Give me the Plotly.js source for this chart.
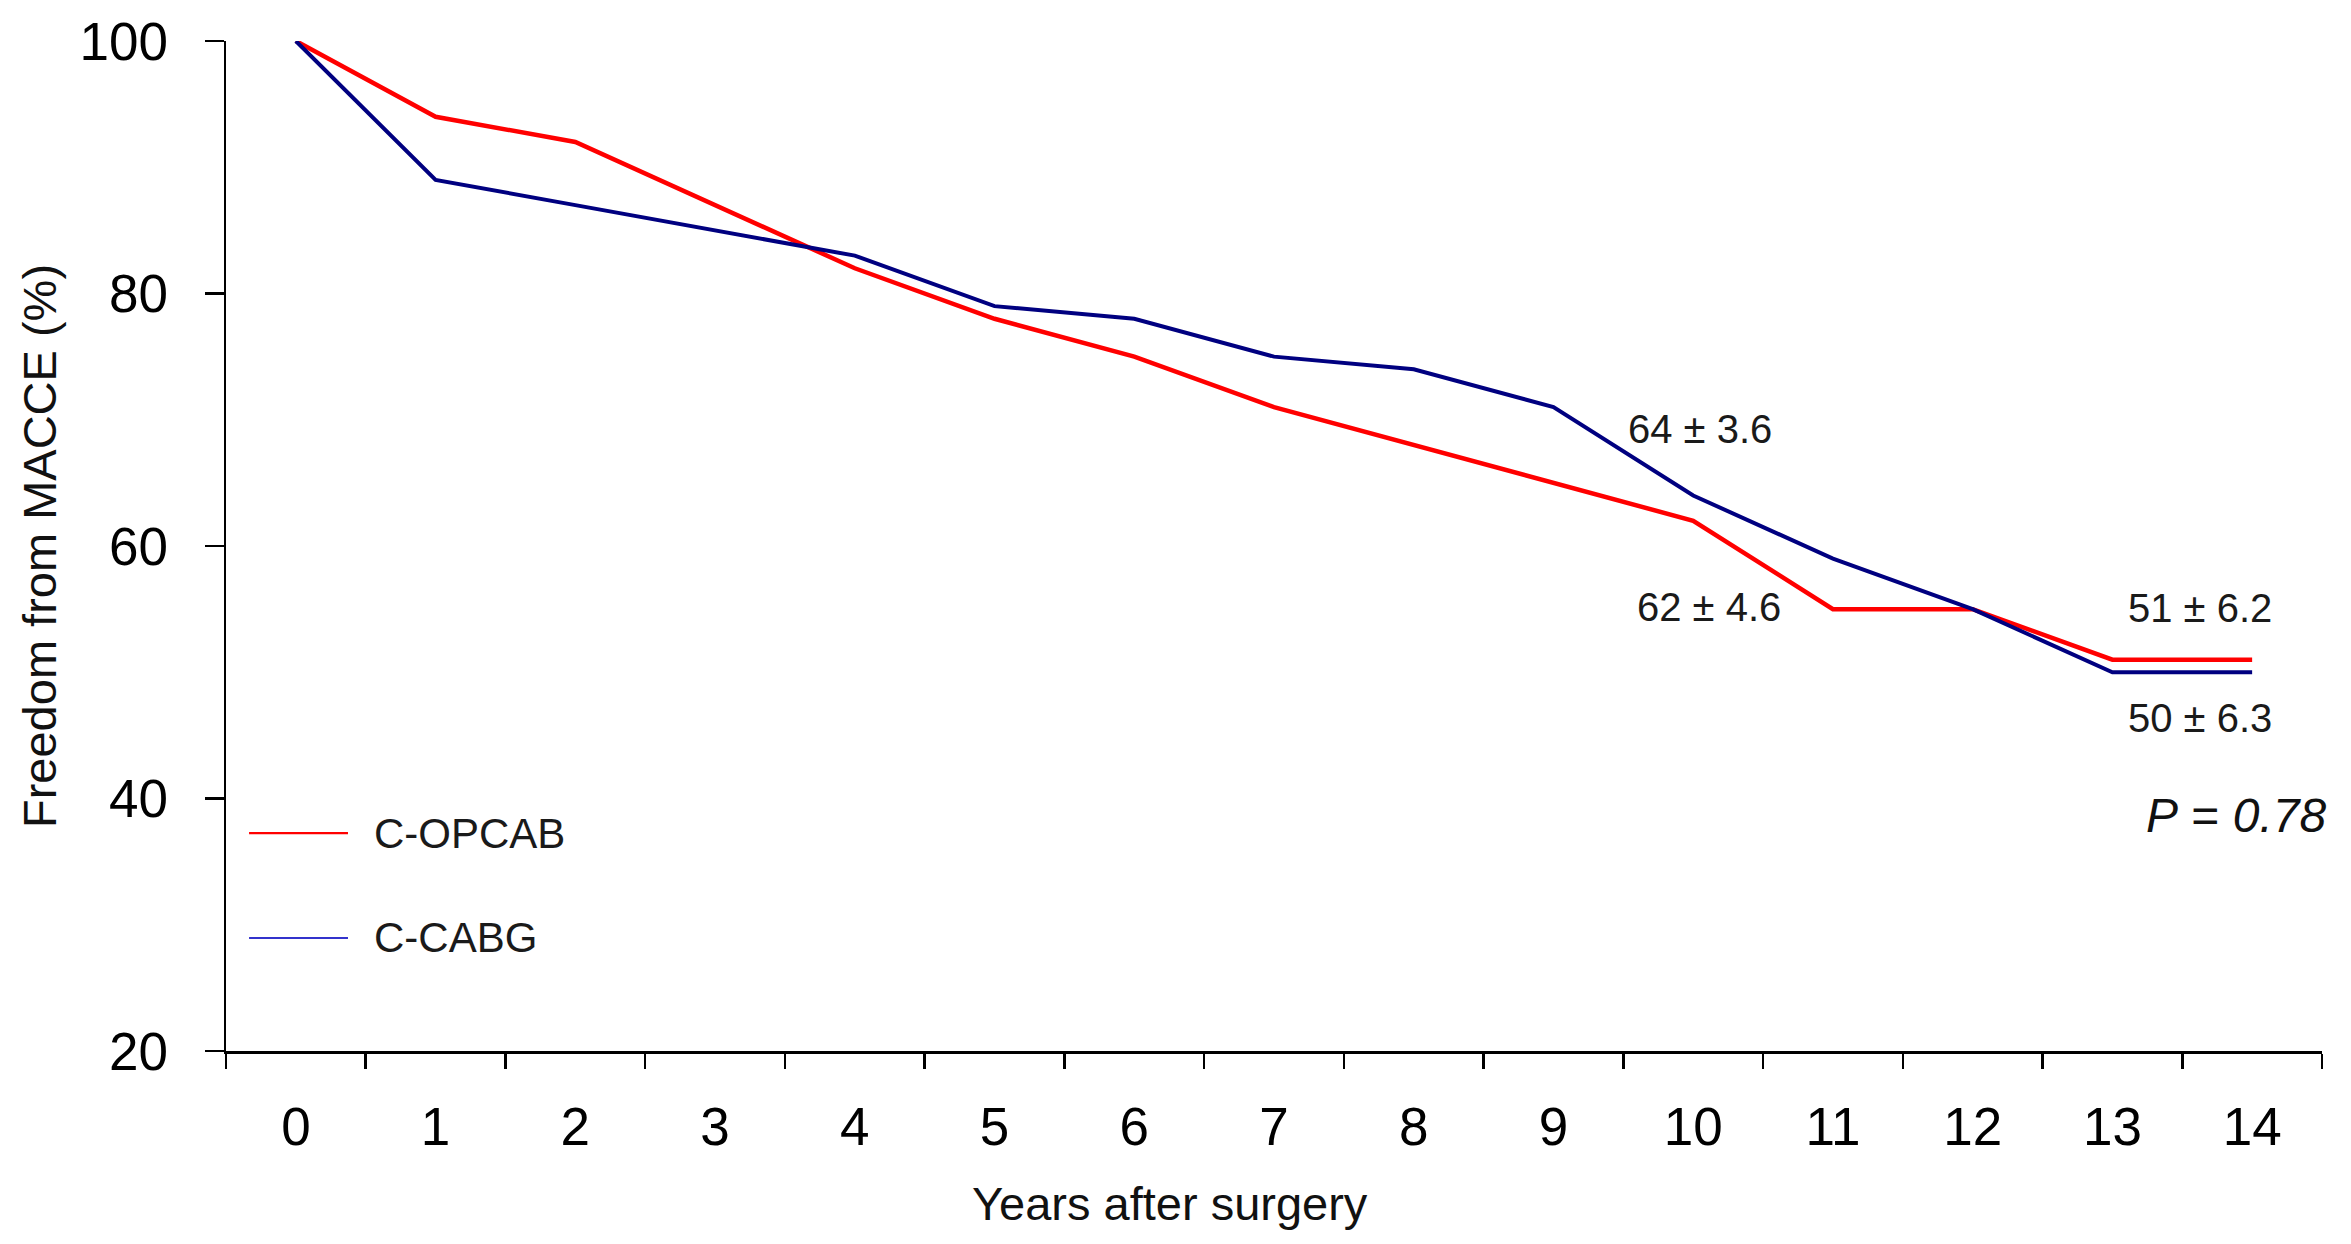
<!DOCTYPE html>
<html>
<head>
<meta charset="utf-8">
<script src="https://cdn.plot.ly/plotly-3.0.1.min.js"></script>
<style>html,body{margin:0;padding:0;background:#fff;}#chart{width:2351px;height:1244px;}</style>
</head>
<body>
<div id="chart"></div>
<script>
// Data
var years = ["0","1","2","3","4","5","6","7","8","9","10","11","12","13","14"];
var opcab = [100, 94, 92, 87, 82, 78, 75, 71, 68, 65, 62, 55, 55, 51, 51];
var cabg  = [100, 89, 87, 85, 83, 79, 78, 75, 74, 71, 64, 59, 55, 50, 50];
var seriesNames = ["C-OPCAB", "C-CABG"];
var yTicks = [20, 40, 60, 80, 100];
var valueLabels = ["64 \u00b1 3.6", "62 \u00b1 4.6", "51 \u00b1 6.2", "50 \u00b1 6.3"];
var pLabel = "<i>P</i> = <i>0.78</i>";
var xTitle = "Years after surgery";
var yTitle = "Freedom from MACCE (%)";

var FONT = "Liberation Sans, Arial, sans-serif";

var traces = [
  {x: years, y: opcab, type: "scatter", mode: "lines", name: seriesNames[0],
   line: {color: "#FF0000", width: 4.5}, showlegend: false, hoverinfo: "x+y"},
  {x: years, y: cabg, type: "scatter", mode: "lines", name: seriesNames[1],
   line: {color: "#000080", width: 4}, showlegend: false, hoverinfo: "x+y"}
];

var annFont = {family: FONT, size: 40, color: "#1a1a1a"};
var annotations = [
  {x: 10.05, y: 69.3, xref: "x", yref: "y", text: valueLabels[0], showarrow: false, font: annFont, xanchor: "center", yanchor: "middle"},
  {x: 10.11, y: 55.2, xref: "x", yref: "y", text: valueLabels[1], showarrow: false, font: annFont, xanchor: "center", yanchor: "middle"},
  {x: 13.63, y: 55.1, xref: "x", yref: "y", text: valueLabels[2], showarrow: false, font: annFont, xanchor: "center", yanchor: "middle"},
  {x: 13.63, y: 46.35, xref: "x", yref: "y", text: valueLabels[3], showarrow: false, font: annFont, xanchor: "center", yanchor: "middle"},
  {x: 1.003, y: 38.65, xref: "paper", yref: "y", text: pLabel, showarrow: false,
   font: {family: FONT, size: 48, color: "#111"}, xanchor: "right", yanchor: "middle"},
  // legend labels
  {x: 0.0697, y: 0.2158, xref: "paper", yref: "paper", text: seriesNames[0], showarrow: false,
   font: {family: FONT, size: 42, color: "#1a1a1a"}, xanchor: "left", yanchor: "middle"},
  {x: 0.0697, y: 0.1119, xref: "paper", yref: "paper", text: seriesNames[1], showarrow: false,
   font: {family: FONT, size: 42, color: "#1a1a1a"}, xanchor: "left", yanchor: "middle"},
  // x-axis title (offset left of plot centre, as in the original)
  {x: 0.4504, y: -0.1505, xref: "paper", yref: "paper", text: xTitle, showarrow: false,
   font: {family: FONT, size: 47, color: "#111"}, xanchor: "center", yanchor: "middle"}
];

var shapes = [
  {type: "line", xref: "paper", yref: "paper", x0: 0.011, x1: 0.0582, y0: 0.2158, y1: 0.2158,
   line: {color: "#FF0000", width: 2.2}},
  {type: "line", xref: "paper", yref: "paper", x0: 0.011, x1: 0.0582, y0: 0.1119, y1: 0.1119,
   line: {color: "#3333CC", width: 2.2}}
];

var layout = {
  width: 2351, height: 1244,
  margin: {l: 226, r: 29, t: 41, b: 193, pad: 0},
  paper_bgcolor: "#ffffff", plot_bgcolor: "#ffffff",
  font: {family: FONT, color: "#000"},
  showlegend: false,
  xaxis: {
    type: "category",
    categoryorder: "array", categoryarray: years,
    range: [-0.5, 14.5],
    tickson: "boundaries",
    ticks: "outside", ticklen: 15, tickwidth: 2.5, tickcolor: "#000",
    showline: true, linecolor: "#000", linewidth: 2.5,
    showgrid: false, zeroline: false,
    tickfont: {family: FONT, size: 53, color: "#000"},
    ticklabelstandoff: 28,
    automargin: false, fixedrange: true
  },
  yaxis: {
    range: [20, 100],
    tickvals: yTicks,
    ticks: "outside", ticklen: 19, tickwidth: 2.5, tickcolor: "#000",
    showline: true, linecolor: "#000", linewidth: 2.5,
    showgrid: false, zeroline: false,
    tickfont: {family: FONT, size: 53, color: "#000"},
    ticklabelstandoff: 26,
    title: {text: yTitle, font: {family: FONT, size: 47, color: "#111"}, standoff: 8},
    automargin: false, fixedrange: true
  },
  annotations: annotations,
  shapes: shapes
};

Plotly.newPlot("chart", traces, layout, {displayModeBar: false, staticPlot: true});
</script>
</body>
</html>
